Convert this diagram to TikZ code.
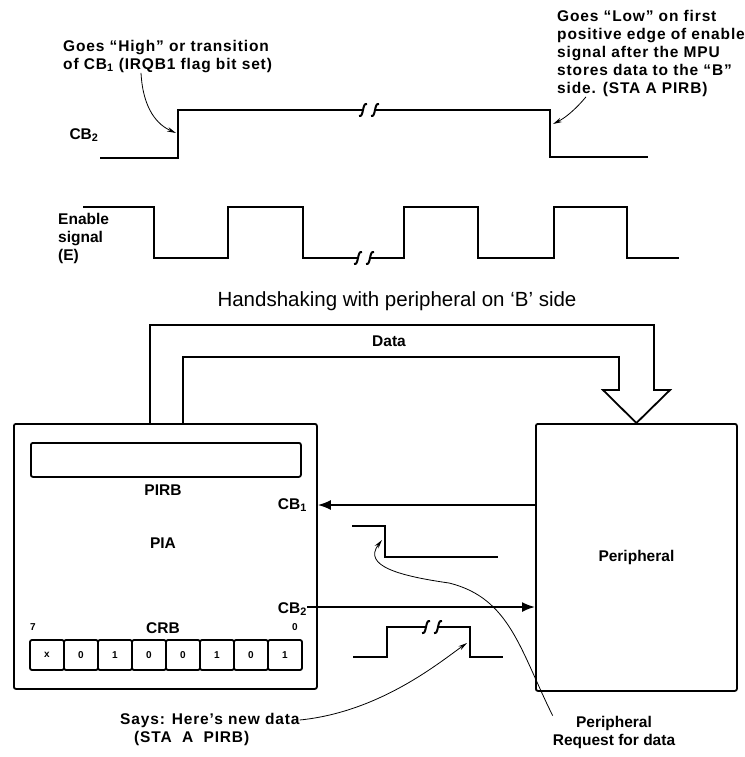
\documentclass[tikz,border=0pt]{standalone}
\usepackage{fontspec}
\setmainfont{Liberation Sans}
\usetikzlibrary{arrows.meta}

\tikzset{
  wave/.style={line width=2.6pt, line join=miter},
  box/.style={draw, line width=1.8pt, rounded corners=2, inner sep=0},
  lbl/.style={font=\bfseries\fontsize{15.5}{18}\selectfont, inner sep=0},
  small/.style={font=\bfseries\fontsize{10}{12}\selectfont, inner sep=0},
  note/.style={inner sep=0, align=left,
    font=\bfseries\fontsize{15.5}{18}\selectfont\addfontfeatures{LetterSpace=5.5}},
  pointer/.style={line width=0.8pt, -{Stealth[length=9pt,width=4.5pt]}},
  bigarrow/.style={line width=1.8pt, -{Latex[length=13pt,width=10pt]}},
}

% break mark on a waveform
\newcommand{\wavebreak}[1]{%
  \begin{scope}[shift={(#1)}]
    \fill[white] (-5,-3) rectangle (5,3);
    \draw[line width=2pt] (-10,6) .. controls (-5,8) and (-7,-8) .. (-2,-6);
    \draw[line width=2pt] (2,6) .. controls (7,8) and (5,-8) .. (10,-6);
  \end{scope}}

\begin{document}
\begin{tikzpicture}[x=1pt,y=-1pt]

\useasboundingbox (0,0) rectangle (744,757);

% timing of CB2
\draw[wave] (100,158) -- (178,158) -- (178,110) -- (550,110) -- (550,157) -- (648,157);
\wavebreak{369,110}
\node[lbl] (cbtwotime) at (84,135) {CB\textsubscript{2}};

\node[note, anchor=north west] (highnote) at (63,40)
  {Goes ``High'' or transition\\of CB\textsubscript{1} (IRQB1 flag bit set)};
\node[note, anchor=north west] (lownote) at (557,10)
  {Goes ``Low'' on first\\positive edge of enable\\signal after the MPU\\stores data to the ``B''\\side. (STA A PIRB)};
\coordinate (rise) at (176,133);
\coordinate (fall) at (553,124);
\draw[pointer] (highnote.south -| 141,0) .. controls (143,110) and (158,125) .. (rise);
\draw[pointer] (lownote.south -| 586,0) .. controls (575,110) and (565,118) .. (fall);

% enable signal
\draw[wave] (83,207) -- (154,207) -- (154,258) -- (228,258) -- (228,207) -- (303,207)
  -- (303,258) -- (404,258) -- (404,207) -- (478,207) -- (478,258) -- (554,258)
  -- (554,207) -- (627,207) -- (627,258) -- (679,258);
\wavebreak{364,258}
\node[lbl, align=left, anchor=north west] (enable) at (58,213) {Enable\\signal\\(E)};

% handshaking
\node[font=\fontsize{20.5}{24}\selectfont, inner sep=0] (title) at (397,301)
  {Handshaking with peripheral on `B' side};

\node[box, minimum width=303, minimum height=265, anchor=north west] (pia) at (13,423) {};
\node[box, minimum width=201, minimum height=267, anchor=north west,
  font=\bfseries\fontsize{15.5}{18}\selectfont] (per) at (535,423) {Peripheral};

% data bus
\draw[line width=1.8pt, line join=miter]
  (150,423) -- (150,325) -- (654,325) -- (654,390) -- (670,390) -- (per.north)
  -- (603,390) -- (619,390) -- (619,357) -- (183,357) -- (183,423);
\node[lbl] (data) at (389,341) {Data};

\node[box, minimum width=270, minimum height=34, anchor=north west] (pirb) at (30,442) {};
\node[lbl] (pirblbl) at (163,490) {PIRB};
\node[lbl] (pialbl) at (163,543) {PIA};
\node[lbl, anchor=east] (cbone) at (307,505) {CB\textsubscript{1}};
\node[lbl, anchor=east] (cbtwo) at (307,609) {CB\textsubscript{2}};

\node[lbl] (crb) at (163,628) {CRB};
\node[small] (msb) at (33,627) {7};
\node[small] (lsb) at (295,627) {0};
\foreach \b [count=\i] in {x,0,1,0,0,1,0,1}
  \node[box, small, minimum width=34, minimum height=30] (bit\i) at (30+34*\i-17,655) {\b};

\draw[bigarrow] (cbone -| per.west) -- (cbone -| pia.east);
\draw[bigarrow] (cbtwo.east |- 0,607) -- (per.west |- 0,607);

% request and new data pulses
\draw[wave] (352,526) -- (385,526) -- (385,557) -- (498,557);
\draw[wave] (353,657) -- (387,657) -- (387,627) -- (470,627) -- (470,657) -- (503,657);
\wavebreak{432,627}

\node[note, anchor=north west] (says) at (120,713)
  {Says: Here's new data\\\hspace*{14pt}(STA~ A~ PIRB)};
\node[lbl, align=center] (request) at (614,732) {Peripheral\\Request for data};
\coordinate (reqedge) at (382,540);
\coordinate (dataedge) at (467,643);
\draw[pointer] (says.east |- 0,720) .. controls (380,712) and (440,662) .. (dataedge);
\draw[pointer] (request.north west) .. controls (520,650) and (510,598) .. (449,583)
  .. controls (400,576) and (362,566) .. (reqedge);

\end{tikzpicture}
\end{document}
